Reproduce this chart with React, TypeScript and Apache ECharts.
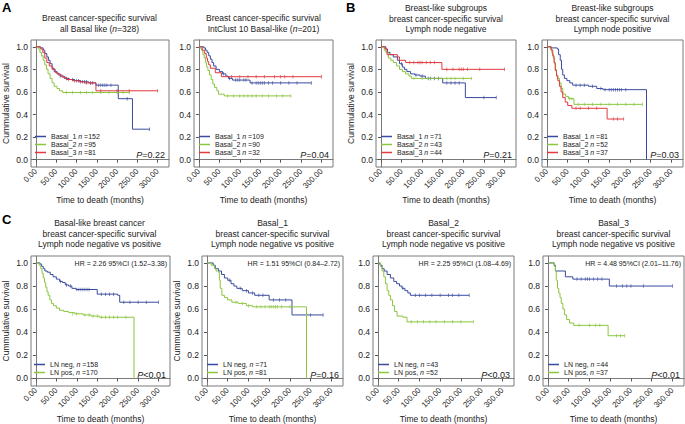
import { useEffect, useRef } from 'react';
import * as echarts from 'echarts';

type Pt = [number, number];

const X_TICKS = [0, 50, 100, 150, 200, 250, 300];
const Y_TICKS = [0, 0.2, 0.4, 0.6, 0.8, 1.0];

// ---- Panel A1: all Basal like ----
const A1_b1: Pt[] = [[0,1],[10,0.99],[18,0.97],[22,0.94],[27,0.91],[31,0.88],[35,0.85],[40,0.81],[45,0.78],[52,0.76],[60,0.74],[70,0.72],[82,0.71],[95,0.70],[110,0.69],[130,0.68],[148,0.66],[203,0.54],[238,0.27],[280,0.27]];
const A1_b1c: Pt[] = [[60,0.74],[75,0.72],[90,0.71],[100,0.70],[105,0.70],[115,0.69],[120,0.69],[125,0.69],[135,0.68],[140,0.68],[155,0.66],[160,0.66],[165,0.66],[170,0.66],[175,0.66],[185,0.66],[225,0.54],[280,0.27]];
const A1_b2: Pt[] = [[0,1],[6,0.98],[10,0.95],[14,0.92],[18,0.88],[22,0.84],[26,0.80],[30,0.76],[35,0.72],[40,0.68],[45,0.65],[52,0.63],[58,0.61],[66,0.595],[230,0.595]];
const A1_b2c: Pt[] = [[75,0.595],[90,0.595],[110,0.595],[125,0.595],[140,0.595],[160,0.595],[180,0.595],[200,0.595],[215,0.595],[230,0.595]];
const A1_b3: Pt[] = [[0,1],[12,0.98],[17,0.95],[22,0.90],[27,0.86],[33,0.83],[40,0.80],[48,0.77],[55,0.75],[65,0.73],[75,0.71],[90,0.70],[105,0.69],[120,0.68],[148,0.61],[300,0.61]];
const A1_b3c: Pt[] = [[80,0.71],[95,0.70],[110,0.69],[125,0.68],[135,0.68],[160,0.61],[200,0.61],[230,0.61],[300,0.61]];

// ---- Panel A2: IntClust 10 Basal-like ----
const A2_b1: Pt[] = [[0,1],[12,0.99],[16,0.97],[20,0.95],[24,0.92],[28,0.89],[32,0.86],[36,0.83],[42,0.80],[50,0.78],[58,0.76],[66,0.74],[72,0.72],[82,0.705],[125,0.68],[275,0.68]];
const A2_b1c: Pt[] = [[60,0.76],[75,0.72],[90,0.705],[95,0.705],[100,0.705],[110,0.705],[115,0.705],[130,0.68],[140,0.68],[145,0.68],[150,0.68],[155,0.68],[160,0.68],[170,0.68],[180,0.68],[200,0.68],[220,0.68],[240,0.68],[275,0.68]];
const A2_b2: Pt[] = [[0,1],[5,0.98],[8,0.96],[10,0.93],[13,0.90],[16,0.86],[19,0.82],[22,0.79],[26,0.75],[30,0.71],[34,0.67],[38,0.64],[44,0.61],[48,0.58],[62,0.565],[225,0.565]];
const A2_b2c: Pt[] = [[70,0.565],[85,0.565],[100,0.565],[110,0.565],[120,0.565],[130,0.565],[140,0.565],[155,0.565],[170,0.565],[190,0.565],[205,0.565],[225,0.565]];
const A2_b3: Pt[] = [[0,1],[8,0.97],[14,0.94],[18,0.90],[21,0.87],[24,0.84],[28,0.81],[40,0.77],[55,0.735],[300,0.735]];
const A2_b3c: Pt[] = [[80,0.735],[100,0.735],[120,0.735],[140,0.735],[160,0.735],[185,0.735],[200,0.735],[210,0.735],[230,0.735],[300,0.735]];

// ---- Panel B1: lymph node negative ----
const B1_b1: Pt[] = [[0,1],[12,0.98],[16,0.95],[22,0.93],[30,0.91],[40,0.88],[45,0.85],[52,0.82],[57,0.80],[63,0.78],[72,0.76],[82,0.75],[95,0.74],[108,0.72],[150,0.68],[205,0.55],[280,0.55]];
const B1_b1c: Pt[] = [[50,0.85],[85,0.75],[100,0.74],[115,0.72],[120,0.72],[130,0.72],[140,0.72],[160,0.68],[170,0.68],[180,0.68],[190,0.68],[250,0.55],[280,0.55]];
const B1_b2: Pt[] = [[0,1],[8,0.97],[12,0.95],[18,0.90],[24,0.88],[30,0.86],[38,0.83],[45,0.80],[52,0.78],[60,0.76],[68,0.74],[74,0.72],[220,0.72]];
const B1_b2c: Pt[] = [[80,0.72],[100,0.72],[120,0.72],[140,0.72],[160,0.72],[170,0.72],[180,0.72],[200,0.72],[220,0.72]];
const B1_b3: Pt[] = [[0,1],[10,0.98],[15,0.93],[40,0.91],[45,0.88],[60,0.86],[148,0.80],[300,0.80]];
const B1_b3c: Pt[] = [[70,0.86],[80,0.86],[90,0.86],[95,0.86],[100,0.86],[110,0.86],[120,0.86],[130,0.86],[160,0.80],[175,0.80],[190,0.80],[195,0.80],[200,0.80],[210,0.80],[240,0.80],[300,0.80]];

// ---- Panel B2: lymph node positive ----
const B2_b1: Pt[] = [[0,1],[10,0.99],[25,0.98],[28,0.93],[32,0.88],[35,0.80],[38,0.75],[42,0.72],[48,0.70],[55,0.68],[62,0.66],[100,0.65],[120,0.63],[135,0.62],[240,0]];
const B2_b1c: Pt[] = [[70,0.66],[80,0.66],[90,0.66],[110,0.65],[130,0.63],[140,0.62],[150,0.62],[155,0.62],[160,0.62],[165,0.62],[170,0.62],[175,0.62],[180,0.62],[190,0.62]];
const B2_b2: Pt[] = [[0,1],[8,0.98],[12,0.94],[15,0.90],[18,0.85],[20,0.80],[23,0.75],[26,0.72],[30,0.68],[34,0.63],[38,0.58],[45,0.56],[52,0.54],[65,0.49],[230,0.49]];
const B2_b2c: Pt[] = [[55,0.54],[60,0.54],[75,0.49],[90,0.49],[110,0.49],[130,0.49],[150,0.49],[170,0.49],[190,0.49],[210,0.49],[230,0.49]];
const B2_b3: Pt[] = [[0,1],[10,0.97],[14,0.92],[17,0.86],[20,0.79],[23,0.74],[26,0.70],[30,0.65],[34,0.60],[38,0.55],[44,0.51],[50,0.48],[60,0.455],[145,0.36],[185,0.36]];
const B2_b3c: Pt[] = [[70,0.455],[80,0.455],[100,0.455],[120,0.455],[160,0.36],[170,0.36],[185,0.36]];

// ---- Panel C1: Basal-like, LN neg vs pos ----
const C1_neg: Pt[] = [[0,1],[10,0.99],[14,0.97],[18,0.95],[22,0.93],[28,0.92],[35,0.90],[42,0.88],[50,0.86],[58,0.84],[65,0.83],[72,0.81],[80,0.80],[88,0.78],[98,0.77],[150,0.73],[200,0.72],[205,0.66],[300,0.66]];
const C1_negc: Pt[] = [[60,0.84],[75,0.81],[85,0.80],[100,0.77],[105,0.77],[110,0.77],[115,0.77],[120,0.77],[125,0.77],[130,0.77],[160,0.73],[170,0.73],[180,0.73],[190,0.73],[215,0.66],[230,0.66],[250,0.66],[270,0.66],[300,0.66]];
const C1_pos: Pt[] = [[0,1],[8,0.98],[12,0.95],[15,0.91],[18,0.87],[21,0.83],[24,0.79],[27,0.75],[30,0.72],[34,0.68],[38,0.65],[43,0.63],[50,0.61],[58,0.59],[68,0.58],[80,0.57],[95,0.56],[115,0.55],[135,0.54],[155,0.53],[240,0]];
const C1_posc: Pt[] = [[90,0.56],[100,0.56],[120,0.55],[130,0.55],[140,0.54],[150,0.54],[160,0.53],[170,0.53],[180,0.53],[190,0.53],[200,0.53],[220,0.53]];

// ---- Panel C2: Basal_1 ----
const C2_neg: Pt[] = [[0,1],[15,0.98],[20,0.95],[28,0.93],[35,0.90],[42,0.87],[50,0.85],[58,0.82],[65,0.80],[72,0.78],[85,0.76],[100,0.74],[115,0.72],[150,0.68],[205,0.55],[280,0.55]];
const C2_negc: Pt[] = [[55,0.85],[80,0.78],[95,0.76],[110,0.74],[125,0.72],[135,0.72],[160,0.68],[175,0.68],[190,0.68],[250,0.55],[280,0.55]];
const C2_pos: Pt[] = [[0,1],[10,0.98],[18,0.95],[22,0.93],[28,0.92],[30,0.85],[32,0.78],[36,0.72],[42,0.70],[50,0.68],[60,0.66],[75,0.65],[95,0.63],[110,0.62],[240,0]];
const C2_posc: Pt[] = [[70,0.66],[85,0.65],[100,0.63],[120,0.62],[130,0.62],[140,0.62],[150,0.62],[155,0.62],[160,0.62],[165,0.62],[170,0.62],[180,0.62],[200,0.62]];

// ---- Panel C3: Basal_2 ----
const C3_neg: Pt[] = [[0,1],[5,0.98],[10,0.95],[15,0.93],[22,0.90],[30,0.87],[38,0.84],[45,0.82],[52,0.80],[58,0.78],[65,0.76],[72,0.74],[78,0.72],[220,0.72]];
const C3_negc: Pt[] = [[60,0.78],[90,0.72],[100,0.72],[115,0.72],[130,0.72],[150,0.72],[170,0.72],[180,0.72],[195,0.72],[220,0.72]];
const C3_pos: Pt[] = [[0,1],[6,0.97],[10,0.93],[14,0.88],[18,0.82],[22,0.76],[26,0.72],[30,0.68],[35,0.63],[40,0.58],[46,0.54],[60,0.53],[70,0.49],[230,0.49]];
const C3_posc: Pt[] = [[80,0.49],[95,0.49],[110,0.49],[125,0.49],[140,0.49],[160,0.49],[180,0.49],[200,0.49],[230,0.49]];

// ---- Panel C4: Basal_3 ----
const C4_neg: Pt[] = [[0,1],[15,0.98],[18,0.93],[42,0.88],[60,0.86],[148,0.80],[300,0.80]];
const C4_negc: Pt[] = [[70,0.86],[80,0.86],[90,0.86],[95,0.86],[100,0.86],[110,0.86],[120,0.86],[130,0.86],[165,0.80],[180,0.80],[190,0.80],[200,0.80],[230,0.80],[300,0.80]];
const C4_pos: Pt[] = [[0,1],[15,0.97],[18,0.93],[20,0.85],[23,0.78],[26,0.74],[29,0.70],[32,0.65],[36,0.60],[40,0.55],[45,0.51],[52,0.48],[62,0.46],[145,0.37],[185,0.37]];
const C4_posc: Pt[] = [[75,0.46],[100,0.46],[115,0.46],[125,0.46],[165,0.37],[175,0.37],[185,0.37]];

const BLUE = '#3a4b9f';
const GREEN = '#8cc63f';
const RED = '#e0393e';
const FONT = '"Liberation Sans", Arial, Helvetica, sans-serif';
const INK = '#222';
const FRAME = '#7a7a7a';

interface Curve { name: string; color: string; steps: Pt[]; cens: Pt[] }
interface Panel {
  box: [number, number, number, number];
  title: string;
  titleTop: number;
  ylab: boolean;
  p: string;
  hr?: string;
  legendTop: number;
  curves: Curve[];
}

const PANELS: Panel[] = [
  { box: [30, 40, 139, 127], title: 'Breast cancer-specific survival\nall Basal like ({i|n}=328)', titleTop: 13, ylab: true, p: '{i|P}=0.22', legendTop: 133,
    curves: [
      { name: 'Basal_1 n =152', color: BLUE, steps: A1_b1, cens: A1_b1c },
      { name: 'Basal_2 n =95', color: GREEN, steps: A1_b2, cens: A1_b2c },
      { name: 'Basal_3 n =81', color: RED, steps: A1_b3, cens: A1_b3c },
    ] },
  { box: [194, 40, 139, 127], title: 'Breast cancer-specific survival\nIntClust 10 Basal-like ({i|n}=201)', titleTop: 13, ylab: false, p: '{i|P}=0.04', legendTop: 133,
    curves: [
      { name: 'Basal_1 n =109', color: BLUE, steps: A2_b1, cens: A2_b1c },
      { name: 'Basal_2 n =90', color: GREEN, steps: A2_b2, cens: A2_b2c },
      { name: 'Basal_3 n =32', color: RED, steps: A2_b3, cens: A2_b3c },
    ] },
  { box: [376, 40, 140, 127], title: 'Breast-like subgroups\nbreast cancer-specific survival\nLymph node negative', titleTop: 3, ylab: true, p: '{i|P}=0.21', legendTop: 133,
    curves: [
      { name: 'Basal_1 n =71', color: BLUE, steps: B1_b1, cens: B1_b1c },
      { name: 'Basal_2 n =43', color: GREEN, steps: B1_b2, cens: B1_b2c },
      { name: 'Basal_3 n =44', color: RED, steps: B1_b3, cens: B1_b3c },
    ] },
  { box: [542, 40, 141, 127], title: 'Breast-like subgroups\nbreast cancer-specific survival\nLymph node positive', titleTop: 3, ylab: false, p: '{i|P}=0.03', legendTop: 133,
    curves: [
      { name: 'Basal_1 n =81', color: BLUE, steps: B2_b1, cens: B2_b1c },
      { name: 'Basal_2 n =52', color: GREEN, steps: B2_b2, cens: B2_b2c },
      { name: 'Basal_3 n =37', color: RED, steps: B2_b3, cens: B2_b3c },
    ] },
  { box: [29, 256, 141, 131], title: 'Basal-like breast cancer\nbreast cancer-specific survival\nLymph node negative vs positive', titleTop: 218, ylab: true, p: '{i|P}<0.01', hr: 'HR = 2.26 95%CI (1.52–3.38)', legendTop: 361,
    curves: [
      { name: 'LN neg, n =158', color: BLUE, steps: C1_neg, cens: C1_negc },
      { name: 'LN pos, n =170', color: GREEN, steps: C1_pos, cens: C1_posc },
    ] },
  { box: [202, 256, 141, 131], title: 'Basal_1\nbreast cancer-specific survival\nLymph node negative vs positive', titleTop: 218, ylab: true, p: '{i|P}=0.16', hr: 'HR = 1.51 95%CI (0.84–2.72)', legendTop: 361,
    curves: [
      { name: 'LN neg, n =71', color: BLUE, steps: C2_neg, cens: C2_negc },
      { name: 'LN pos, n =81', color: GREEN, steps: C2_pos, cens: C2_posc },
    ] },
  { box: [373, 256, 141, 131], title: 'Basal_2\nbreast cancer-specific survival\nLymph node negative vs positive', titleTop: 218, ylab: false, p: '{i|P}<0.03', hr: 'HR = 2.25 95%CI (1.08–4.69)', legendTop: 361,
    curves: [
      { name: 'LN neg, n =43', color: BLUE, steps: C3_neg, cens: C3_negc },
      { name: 'LN pos, n =52', color: GREEN, steps: C3_pos, cens: C3_posc },
    ] },
  { box: [543, 256, 141, 131], title: 'Basal_3\nbreast cancer-specific survival\nLymph node negative vs positive', titleTop: 218, ylab: false, p: '{i|P}<0.01', hr: 'HR = 4.48 95%CI (2.01–11.76)', legendTop: 361,
    curves: [
      { name: 'LN neg, n =44', color: BLUE, steps: C4_neg, cens: C4_negc },
      { name: 'LN pos, n =37', color: GREEN, steps: C4_pos, cens: C4_posc },
    ] },
];

const LETTERS: [string, number, number][] = [['A', 2, 1], ['B', 346, 1], ['C', 2, 213]];

export default function App() {
  const ref = useRef<HTMLDivElement>(null);
  useEffect(() => {
    const chart = echarts.init(ref.current!, null, { renderer: 'svg' });
    const grid: any[] = [];
    const xAxis: any[] = [];
    const yAxis: any[] = [];
    const series: any[] = [];
    const legend: any[] = [];
    const graphic: any[] = [];

    PANELS.forEach((p, i) => {
      const [l, t, w, h] = p.box;
      grid.push({ left: l, top: t, width: w, height: h, show: true, borderColor: FRAME, borderWidth: 1, backgroundColor: 'transparent' });
      xAxis.push({
        type: 'value', gridIndex: i, min: -12, max: 328,
        name: 'Time to death (months)', nameLocation: 'middle', nameGap: 28,
        nameTextStyle: { fontSize: 8.5, color: INK, fontFamily: FONT },
        axisLine: { show: true, lineStyle: { color: FRAME, width: 1 } },
        axisTick: { show: true, length: 3, customValues: X_TICKS, lineStyle: { color: '#555' } },
        axisLabel: { customValues: X_TICKS, rotate: 45, fontSize: 8, color: INK, margin: 3, fontFamily: FONT, formatter: (v: number) => v.toFixed(2) },
        splitLine: { show: false },
      });
      yAxis.push({
        type: 'value', gridIndex: i, min: -0.065, max: 1.06,
        name: p.ylab ? 'Cummulative survival' : '', nameLocation: 'middle', nameGap: 21,
        nameTextStyle: { fontSize: 8.5, color: INK, fontFamily: FONT },
        axisLine: { show: true, lineStyle: { color: FRAME, width: 1 } },
        axisTick: { show: true, length: 3, customValues: Y_TICKS, lineStyle: { color: '#555' } },
        axisLabel: { customValues: Y_TICKS, fontSize: 8.5, color: INK, margin: 3, fontFamily: FONT, formatter: (v: number) => v.toFixed(1) },
        splitLine: { show: false },
      });
      p.curves.forEach((c) => {
        series.push({
          type: 'line', name: c.name, xAxisIndex: i, yAxisIndex: i, step: 'end', data: c.steps,
          showSymbol: false, symbol: 'none', color: c.color, lineStyle: { color: c.color, width: 1 }, silent: true,
        });
        series.push({
          type: 'scatter', name: c.name + ' censored', xAxisIndex: i, yAxisIndex: i, data: c.cens,
          symbol: 'rect', symbolSize: [0.8, 3.5], itemStyle: { color: c.color }, silent: true,
        });
      });
      legend.push({
        left: l + 5, top: p.legendTop, orient: 'vertical', itemWidth: 11, itemHeight: 1.5, itemGap: 1,
        icon: 'rect', selectedMode: false, padding: 0,
        data: p.curves.map((c) => ({ name: c.name, itemStyle: { color: c.color } })),
        formatter: (name: string) => {
          const parts = name.split(' n ');
          return `{t|${parts[0]} }{i|n}{t| ${parts[1]}}`;
        },
        textStyle: {
          color: INK, fontFamily: FONT, fontSize: 7,
          rich: { t: { fontSize: 7, fontFamily: FONT, color: INK, lineHeight: 8 }, i: { fontSize: 7, fontFamily: FONT, color: INK, fontStyle: 'italic', lineHeight: 8 } },
        },
      });
      graphic.push({
        type: 'text', x: l + w / 2, y: p.titleTop, silent: true,
        style: {
          text: p.title, fill: INK, fontSize: 8.5, fontFamily: FONT, align: 'center', textAlign: 'center', verticalAlign: 'top', textVerticalAlign: 'top', lineHeight: 10.5,
          rich: { i: { fontStyle: 'italic', fontSize: 8.5, fontFamily: FONT, fill: INK, lineHeight: 10.5 } },
        },
      });
      graphic.push({
        type: 'text', x: l + w - 4, y: t + h - 12, silent: true,
        style: {
          text: p.p, fill: INK, fontSize: 9, fontFamily: FONT, align: 'right', textAlign: 'right', verticalAlign: 'middle', textVerticalAlign: 'middle',
          rich: { i: { fontStyle: 'italic', fontSize: 9, fontFamily: FONT, fill: INK } },
        },
      });
      if (p.hr) {
        graphic.push({
          type: 'text', x: l + w - 3, y: t + 7, silent: true,
          style: { text: p.hr, fill: INK, fontSize: 7, fontFamily: FONT, align: 'right', textAlign: 'right', verticalAlign: 'middle', textVerticalAlign: 'middle' },
        });
      }
    });

    LETTERS.forEach(([s, x, y]) => {
      graphic.push({ type: 'text', x, y, silent: true, style: { text: s, fill: '#000', fontSize: 13, fontWeight: 'bold', fontFamily: FONT, verticalAlign: 'top', textVerticalAlign: 'top' } });
    });

    chart.setOption({ animation: false, grid, xAxis, yAxis, series, legend, graphic });
    return () => chart.dispose();
  }, []);
  return <div ref={ref} style={{ position: 'fixed', left: 0, top: 0, width: 685, height: 424, background: '#fff' }} />;
}
